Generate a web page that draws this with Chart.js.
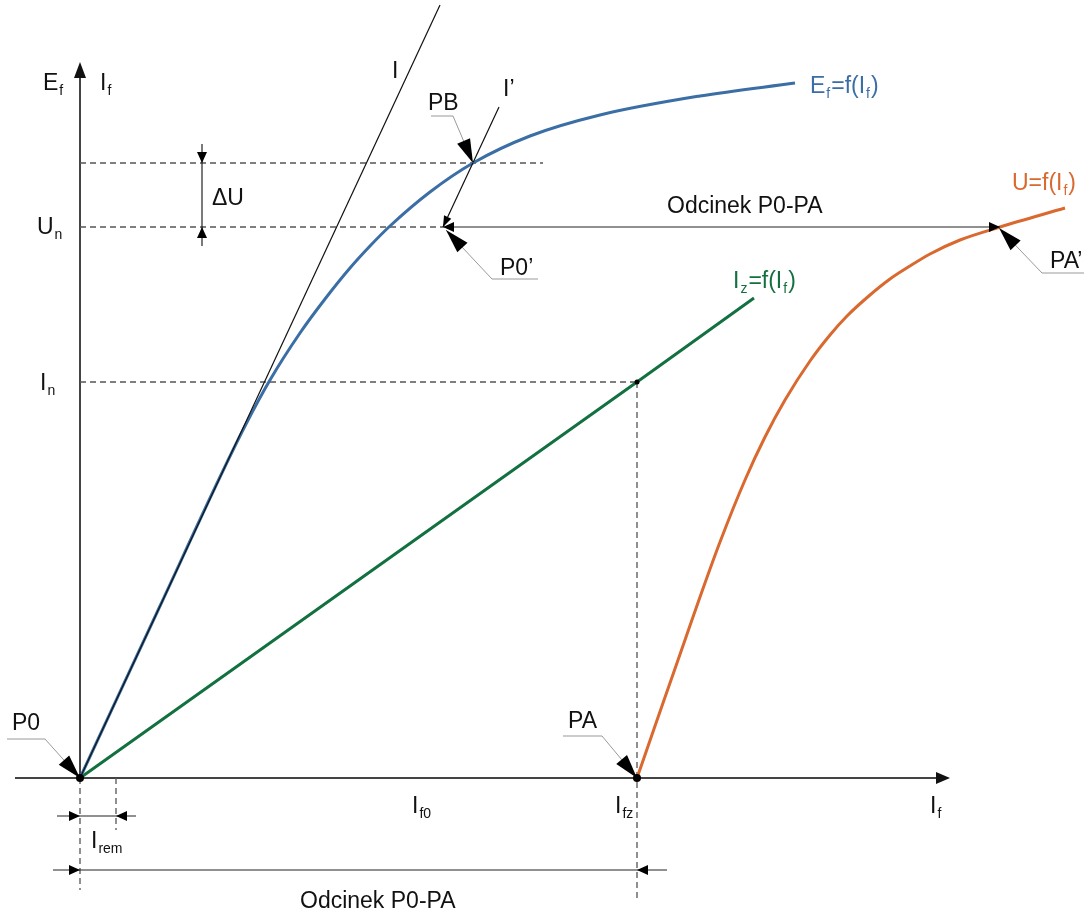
<!DOCTYPE html>
<html>
<head>
<meta charset="utf-8">
<script src="https://cdn.jsdelivr.net/npm/chart.js@4.4.1/dist/chart.umd.min.js"></script>
<style>
  html, body { margin: 0; padding: 0; background: #fff; }
  #wrap { width: 1084px; height: 915px; }
</style>
</head>
<body>
<div id="wrap"><canvas id="chart" width="1084" height="915"></canvas></div>
<script>
// values in diagram units, origin at P0 (If on x, Ef / U / Iz on y)
const efX = [0, 80, 140, 165, 190, 220, 245, 270, 290, 310, 350, 393, 450, 520, 620, 715];
const efY = [0, 172, 301, 352, 398, 445, 479, 510, 532, 552, 586, 615, 642, 663, 682, 695];

const izX = [0, 557, 674];
const izY = [0, 396, 480];

const uX = [557, 575, 590, 605, 620, 640, 665, 685, 705, 730, 750, 767, 790, 810, 830, 850, 880, 920, 985];
const uY = [0, 52, 95, 138, 181, 236, 298, 341, 378, 417, 443, 462, 483, 499, 512, 524, 538, 551, 570];

const lineIX = [0, 360];
const lineIY = [0, 773];
const lineI2X = [363, 419];
const lineI2Y = [551, 671];

// characteristic levels
const Eb = 615;   // Ef at PB
const Un = 551;
const In = 396;
const Ifz = 557;
const Irem = 36;
const P0b = 363;  // P0' on Un line
const PAb = 920;  // PA' on Un line

const pts = (xs, ys) => xs.map((x, i) => ({ x: x, y: ys[i] }));

const FONT = '"Liberation Sans", Arial, sans-serif';

function arrowHead(ctx, tx, ty, fx, fy, len, half) {
  const a = Math.atan2(ty - fy, tx - fx);
  ctx.beginPath();
  ctx.moveTo(tx, ty);
  ctx.lineTo(tx - len * Math.cos(a) + half * Math.sin(a), ty - len * Math.sin(a) - half * Math.cos(a));
  ctx.lineTo(tx - len * Math.cos(a) - half * Math.sin(a), ty - len * Math.sin(a) + half * Math.cos(a));
  ctx.closePath();
  ctx.fill();
}

// text made of pieces, a piece starting with "_" is a subscript
function label(ctx, x, y, pieces, color) {
  ctx.fillStyle = color;
  ctx.textAlign = 'left';
  ctx.textBaseline = 'alphabetic';
  let cx = x;
  pieces.forEach(p => {
    if (p[0] === '_') {
      ctx.font = '14px ' + FONT;
      ctx.fillText(p.slice(1), cx + 1, y + 5);
      cx += ctx.measureText(p.slice(1)).width + 2;
    } else {
      ctx.font = '23px ' + FONT;
      ctx.fillText(p, cx, y);
      cx += ctx.measureText(p).width;
    }
  });
}

const diagram = {
  id: 'diagram',
  beforeDatasetsDraw(chart) {
    const ctx = chart.ctx;
    const X = v => chart.scales.x.getPixelForValue(v);
    const Y = v => chart.scales.y.getPixelForValue(v);
    ctx.save();
    ctx.strokeStyle = '#444';
    ctx.fillStyle = '#111';
    ctx.lineWidth = 2;
    // x axis
    ctx.beginPath();
    ctx.moveTo(X(-65), Y(0));
    ctx.lineTo(X(860), Y(0));
    ctx.stroke();
    arrowHead(ctx, X(870), Y(0), X(0), Y(0), 14, 6);
    // y axis
    ctx.beginPath();
    ctx.moveTo(X(0), Y(0));
    ctx.lineTo(X(0), Y(705));
    ctx.stroke();
    arrowHead(ctx, X(0), Y(716), X(0), Y(0), 16, 6);
    ctx.restore();
  },
  afterDatasetsDraw(chart) {
    const ctx = chart.ctx;
    const X = v => chart.scales.x.getPixelForValue(v);
    const Y = v => chart.scales.y.getPixelForValue(v);
    ctx.save();

    // dimension lines
    ctx.strokeStyle = '#222';
    ctx.fillStyle = '#000';
    ctx.lineWidth = 1.2;
    const dims = [
      [122, 634, 122, 532],
      [P0b, Un, PAb, Un],
      [-23, -38, 56, -38],
      [-27, -92, 587, -92]
    ];
    dims.forEach(d => {
      ctx.beginPath();
      ctx.moveTo(X(d[0]), Y(d[1]));
      ctx.lineTo(X(d[2]), Y(d[3]));
      ctx.stroke();
    });
    arrowHead(ctx, X(122), Y(Eb), X(122), Y(700), 11, 5);
    arrowHead(ctx, X(122), Y(Un), X(122), Y(400), 11, 5);
    arrowHead(ctx, X(P0b), Y(Un), X(600), Y(Un), 11, 5);
    arrowHead(ctx, X(PAb), Y(Un), X(600), Y(Un), 11, 5);
    arrowHead(ctx, X(P0b), Y(Un), X(lineI2X[1]), Y(lineI2Y[1]), 11, 4);
    arrowHead(ctx, X(0), Y(-38), X(-50), Y(-38), 11, 5);
    arrowHead(ctx, X(Irem), Y(-38), X(100), Y(-38), 11, 5);
    arrowHead(ctx, X(0), Y(-92), X(-50), Y(-92), 11, 5);
    arrowHead(ctx, X(Ifz), Y(-92), X(650), Y(-92), 11, 5);

    // callouts: leader line start, knee, arrow tip
    const callouts = [
      [[-73, 39], [-35, 39], [0, 0]],
      [[483, 42], [522, 42], [Ifz, 0]],
      [[351, 662], [373, 662], [393, Eb]],
      [[458, 499], [412, 499], [366, 548]],
      [[1004, 505], [962, 505], [919, 550]]
    ];
    callouts.forEach(c => {
      const k = c[1], t = c[2];
      ctx.strokeStyle = '#999';
      ctx.lineWidth = 1;
      ctx.beginPath();
      ctx.moveTo(X(c[0][0]), Y(c[0][1]));
      ctx.lineTo(X(k[0]), Y(k[1]));
      ctx.lineTo(X(t[0]), Y(t[1]));
      ctx.stroke();
      ctx.fillStyle = '#000';
      arrowHead(ctx, X(t[0]), Y(t[1]), X(k[0]), Y(k[1]), 24, 7);
    });

    // points
    ctx.fillStyle = '#000';
    [[0, 0, 4], [Ifz, 0, 4], [Ifz, In, 2.5]].forEach(p => {
      ctx.beginPath();
      ctx.arc(X(p[0]), Y(p[1]), p[2], 0, Math.PI * 2);
      ctx.fill();
    });

    // texts
    const blk = '#111';
    label(ctx, X(-37), Y(688), ['E', '_f'], blk);
    label(ctx, X(20), Y(688), ['I', '_f'], blk);
    label(ctx, X(-43), Y(544), ['U', '_n'], blk);
    label(ctx, X(-40), Y(388), ['I', '_n'], blk);
    label(ctx, X(132), Y(573), ['\u0394U'], blk);
    label(ctx, X(312), Y(700), ['I'], blk);
    label(ctx, X(423), Y(682), ['I\u2019'], blk);
    label(ctx, X(348), Y(668), ['PB'], blk);
    label(ctx, X(420), Y(503), ['P0\u2019'], blk);
    label(ctx, X(970), Y(510), ['PA\u2019'], blk);
    label(ctx, X(-68), Y(48), ['P0'], blk);
    label(ctx, X(488), Y(50), ['PA'], blk);
    label(ctx, X(332), Y(-35), ['I', '_f0'], blk);
    label(ctx, X(535), Y(-35), ['I', '_fz'], blk);
    label(ctx, X(850), Y(-35), ['I', '_f'], blk);
    label(ctx, X(11), Y(-70), ['I', '_rem'], blk);
    label(ctx, X(587), Y(565), ['Odcinek P0-PA'], blk);
    label(ctx, X(220), Y(-130), ['Odcinek P0-PA'], blk);
    label(ctx, X(730), Y(685), ['E', '_f', '=f(I', '_f', ')'], '#3a6ea5');
    label(ctx, X(932), Y(588), ['U=f(I', '_f', ')'], '#d9692f');
    label(ctx, X(653), Y(490), ['I', '_z', '=f(I', '_f', ')'], '#137040');
    ctx.restore();
  }
};

const guide = { borderColor: '#555', borderWidth: 1.3, borderDash: [6, 4], pointRadius: 0, showLine: true, fill: false };

// first dataset ends up on top
new Chart(document.getElementById('chart').getContext('2d'), {
  type: 'scatter',
  data: {
    datasets: [
      { label: 'I', data: pts(lineIX, lineIY), showLine: true, borderColor: '#111', borderWidth: 1.2, pointRadius: 0 },
      { label: "I'", data: pts(lineI2X, lineI2Y), showLine: true, borderColor: '#111', borderWidth: 1.2, pointRadius: 0 },
      { label: 'Ef', data: pts(efX, efY), showLine: true, borderColor: '#3a6ea5', borderWidth: 3, pointRadius: 0, cubicInterpolationMode: 'monotone' },
      { label: 'U', data: pts(uX, uY), showLine: true, borderColor: '#d9692f', borderWidth: 3, pointRadius: 0, cubicInterpolationMode: 'monotone' },
      { label: 'Iz', data: pts(izX, izY), showLine: true, borderColor: '#137040', borderWidth: 3, pointRadius: 0 },
      Object.assign({ label: 'Eb', data: [{ x: 0, y: Eb }, { x: 463, y: Eb }] }, guide),
      Object.assign({ label: 'Un', data: [{ x: 0, y: Un }, { x: P0b, y: Un }] }, guide),
      Object.assign({ label: 'In', data: [{ x: 0, y: In }, { x: Ifz, y: In }] }, guide),
      Object.assign({ label: 'Ifz', data: [{ x: Ifz, y: In }, { x: Ifz, y: -124 }] }, guide),
      Object.assign({ label: 'P0', data: [{ x: 0, y: 0 }, { x: 0, y: -112 }] }, guide),
      Object.assign({ label: 'Irem', data: [{ x: Irem, y: 0 }, { x: Irem, y: -52 }] }, guide)
    ]
  },
  options: {
    responsive: false,
    animation: false,
    layout: { padding: 0 },
    scales: {
      x: { type: 'linear', min: -80, max: 1004, display: false },
      y: { type: 'linear', min: -137, max: 778, display: false }
    },
    plugins: {
      legend: { display: false },
      tooltip: { enabled: false }
    }
  },
  plugins: [diagram]
});
</script>
</body>
</html>
